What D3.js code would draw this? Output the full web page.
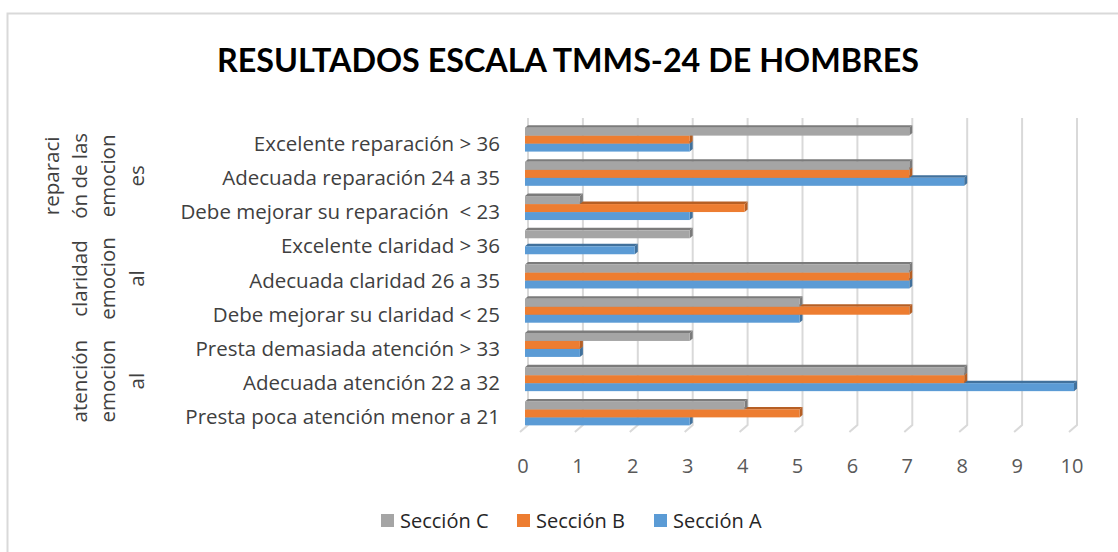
<!DOCTYPE html>
<html>
<head>
<meta charset="utf-8">
<script src="https://cdn.jsdelivr.net/npm/d3@7"></script>
<style>
  body { margin: 0; background: #fff; }
  svg text { font-family: "Open Sans", "Noto Sans", sans-serif; }
</style>
</head>
<body>
<div id="chart"></div>
<script>
// categories, top to bottom as shown
let categories = [
  "Excelente reparación > 36",
  "Adecuada reparación 24 a 35",
  "Debe mejorar su reparación  < 23",
  "Excelente claridad > 36",
  "Adecuada claridad 26 a 35",
  "Debe mejorar su claridad < 25",
  "Presta demasiada atención > 33",
  "Adecuada atención 22 a 32",
  "Presta poca atención menor a 21"
];

// group labels (wrapped as in the original), and the rows they span
let groupLines = [
  ["reparaci", "ón de las", "emocion", "es"],
  ["claridad", "emocion", "al"],
  ["atención", "emocion", "al"]
];
let groupRows = [[0, 2], [3, 5], [6, 8]];

let seriesNames = ["Sección C", "Sección B", "Sección A"];
let seccionC = [7, 7, 1, 3, 7, 5, 3, 8, 4];
let seccionB = [3, 7, 4, 0, 7, 7, 1, 8, 5];
let seccionA = [3, 8, 3, 2, 7, 5, 1, 10, 3];
let xTicks = [0, 1, 2, 3, 4, 5, 6, 7, 8, 9, 10];

let fills = {"Sección C": "#a5a5a5", "Sección B": "#ed7d31", "Sección A": "#5b9bd5"};
let edges = {"Sección C": "#7b7b7b", "Sección B": "#b65f24", "Sección A": "#41719c"};

let width = 1118, height = 552;
let depth = {dx: 3, dy: 2.5};
let labelSize = "20.5px";

let svg = d3.select("#chart").append("svg")
  .attr("width", width)
  .attr("height", height);

// chart frame (runs off the right and bottom of the picture)
svg.append("rect")
  .attr("x", 7.5).attr("y", 13.5)
  .attr("width", 1200).attr("height", 600)
  .attr("fill", "none")
  .attr("stroke", "#d9d9d9")
  .attr("stroke-width", 2);

svg.append("text")
  .attr("x", 568).attr("y", 72)
  .attr("text-anchor", "middle")
  .style("font-family", "Lato, sans-serif")
  .style("font-size", "32.3px")
  .style("font-weight", "bold")
  .attr("fill", "#000")
  .text("RESULTADOS ESCALA TMMS-24 DE HOMBRES");

let xScale = d3.scaleLinear().domain([0, 10]).range([525, 1074]);

let yScale = d3.scaleBand()
  .domain(categories)
  .range([122.5, 430.5])
  .paddingInner(0.3)
  .paddingOuter(0.15);

let ySub = d3.scaleBand()
  .domain(seriesNames)
  .range([0, yScale.bandwidth()]);

// gridlines with the little 3D floor foot
let grid = svg.append("g").attr("class", "grid");
grid.selectAll("path")
  .data(xTicks)
  .enter().append("path")
  .attr("d", d => {
    let gx = xScale(d) + depth.dx;
    return "M" + gx + ",118 L" + gx + ",425 L" + (gx - 8) + ",432";
  })
  .attr("fill", "none")
  .attr("stroke", "#d9d9d9")
  .attr("stroke-width", 2);

// x tick labels
svg.append("g").selectAll("text")
  .data(xTicks)
  .enter().append("text")
  .attr("x", d => xScale(d) - 2)
  .attr("y", 473)
  .attr("text-anchor", "middle")
  .style("font-size", "20px")
  .attr("fill", "#595959")
  .text(d => d);

// category labels
svg.append("g").selectAll("text")
  .data(categories)
  .enter().append("text")
  .attr("x", 500)
  .attr("y", d => yScale(d) + yScale.bandwidth() / 2 + 11)
  .attr("text-anchor", "end")
  .style("font-size", labelSize)
  .attr("fill", "#404040")
  .style("white-space", "pre")
  .text(d => d);

// group labels, rotated
let groupX = [52, 80, 108, 137];
groupLines.forEach((lines, gi) => {
  let r0 = yScale(categories[groupRows[gi][0]]);
  let r1 = yScale(categories[groupRows[gi][1]]) + yScale.bandwidth();
  let cy = (r0 + r1) / 2 + 2;
  let offset = groupX.length - lines.length;
  lines.forEach((line, li) => {
    let cx = groupX[li + offset] + 7;
    svg.append("text")
      .attr("transform", "translate(" + cx + "," + cy + ") rotate(-90)")
      .attr("text-anchor", "middle")
      .style("font-size", labelSize)
      .attr("fill", "#404040")
      .text(line);
  });
});

// bars: draw A, then B, then C so the upper bar hides the top face of the one below
let rows = categories.map((c, i) => ({cat: c, "Sección C": seccionC[i], "Sección B": seccionB[i], "Sección A": seccionA[i]}));
let drawOrder = ["Sección A", "Sección B", "Sección C"];
let bars = svg.append("g").attr("class", "bars");

drawOrder.forEach(s => {
  let g = bars.append("g");
  let data = rows.filter(r => r[s] > 0);
  let geo = r => {
    let x0 = xScale(0), x1 = xScale(r[s]);
    let y0 = yScale(r.cat) + ySub(s), y1 = y0 + ySub.bandwidth();
    return {x0, x1, y0, y1};
  };
  g.selectAll("path.top")
    .data(data).enter().append("path")
    .attr("class", "top")
    .attr("d", r => {
      let b = geo(r);
      return "M" + b.x0 + "," + b.y0 + "L" + (b.x0 + depth.dx) + "," + (b.y0 - depth.dy) +
        "L" + (b.x1 + depth.dx) + "," + (b.y0 - depth.dy) + "L" + b.x1 + "," + b.y0 + "Z";
    })
    .attr("fill", edges[s]);
  g.selectAll("path.side")
    .data(data).enter().append("path")
    .attr("class", "side")
    .attr("d", r => {
      let b = geo(r);
      return "M" + b.x1 + "," + b.y0 + "L" + (b.x1 + depth.dx) + "," + (b.y0 - depth.dy) +
        "L" + (b.x1 + depth.dx) + "," + (b.y1 - depth.dy) + "L" + b.x1 + "," + b.y1 + "Z";
    })
    .attr("fill", edges[s]);
  g.selectAll("rect")
    .data(data).enter().append("rect")
    .attr("x", r => geo(r).x0)
    .attr("y", r => geo(r).y0)
    .attr("width", r => geo(r).x1 - geo(r).x0)
    .attr("height", ySub.bandwidth())
    .attr("fill", fills[s]);
});

// legend
let legendX = [381, 517, 654];
let legend = svg.append("g").selectAll("g")
  .data(seriesNames)
  .enter().append("g")
  .attr("transform", (d, i) => "translate(" + legendX[i] + ",514)");
legend.append("rect")
  .attr("width", 13).attr("height", 13)
  .attr("fill", d => fills[d]);
legend.append("text")
  .attr("x", 19).attr("y", 14)
  .style("font-size", "20px")
  .attr("fill", "#262626")
  .text(d => d);
</script>
</body>
</html>
